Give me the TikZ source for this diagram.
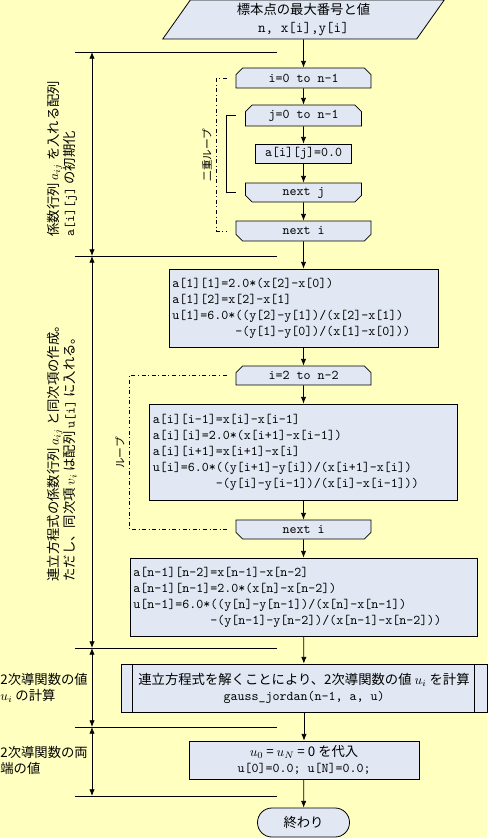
\documentclass[tikz,border=0pt]{standalone}
\usepackage{fontspec}
\newfontfamily\jp{Noto Sans CJK JP}
\usetikzlibrary{arrows.meta,shapes.misc,shapes.geometric,calc}
\definecolor{paper}{RGB}{255,255,192}
\definecolor{boxfill}{RGB}{225,232,243}

\begin{document}
\begin{tikzpicture}[x=0.75pt,y=-0.75pt,line width=0.6pt,
	flow/.style={-{Latex[length=5pt,width=4pt]}},
	dim/.style={{Latex[length=5pt,width=4pt]}-{Latex[length=5pt,width=4pt]}},
	proc/.style={draw,fill=boxfill,inner sep=2.5pt},
	code/.style={proc,align=left,font=\ttfamily},
	loopin/.style={draw,fill=boxfill,chamfered rectangle,
		chamfered rectangle corners={north west,north east},
		chamfered rectangle xsep=2.5pt,chamfered rectangle ysep=2.5pt,
		inner xsep=1pt,inner ysep=0pt,
		font=\ttfamily,minimum width=101.25pt,minimum height=15pt},
	loopout/.style={loopin,chamfered rectangle corners={south west,south east}},
	loopline/.style={dash dot},
	note/.style={font=\jp,align=left,inner sep=0pt}]
	\fill[paper] (0,0) rectangle (487,838);
	\useasboundingbox (0,0) rectangle (487,838);

	% input
	\node[draw,fill=boxfill,trapezium,trapezium left angle=63,trapezium right angle=117,
		trapezium stretches=true,minimum width=211.5pt,minimum height=29.25pt,
		align=center,inner sep=0pt] (input) at (303.5,19.5)
		{\jp 標本点の最大番号と値\\[1pt]\fontsize{11}{13}\ttfamily n,\ x[i],y[i]};

	% coefficient matrix cleared
	\node[loopin] (fori) at (303.5,78) {i=0 to n-1};
	\node[loopin,minimum width=87pt,minimum height=15.75pt] (forj) at (303.5,115.5) {j=0 to n-1};
	\node[proc,font=\ttfamily,minimum width=72pt,minimum height=14.25pt,inner ysep=0pt] (aij) at (303.5,153.5) {a[i][j]=0.0};
	\node[loopout,minimum width=87pt,minimum height=14.25pt] (nextj) at (303.5,192.5) {next j};
	\node[loopout] (nexti) at (303.5,231) {next i};

	% equations
	\node[code,text width=196.75pt,minimum height=58.5pt] (coef1) at (303.5,308) {a[1][1]=2.0*(x[2]-x[0])\\
		a[1][2]=x[2]-x[1]\\
		u[1]=6.0*((y[2]-y[1])/(x[2]-x[1])\\
		\hspace*{4.725em}-(y[1]-y[0])/(x[1]-x[0]))};
	\node[loopin,minimum height=14.25pt] (fori2) at (303.5,375.5) {i=2 to n-2};
	\node[code,text width=226pt,minimum height=72pt] (coef2) at (303.5,452) {a[i][i-1]=x[i]-x[i-1]\\
		a[i][i]=2.0*(x[i+1]-x[i-1])\\
		a[i][i+1]=x[i+1]-x[i]\\
		u[i]=6.0*((y[i+1]-y[i])/(x[i+1]-x[i])\\
		\hspace*{4.725em}-(y[i]-y[i-1])/(x[i]-x[i-1]))};
	\node[loopout,minimum height=14.25pt] (nexti2) at (303.5,529.5) {next i};
	\node[code,text width=255.25pt,minimum height=58.5pt] (coef3) at (303.5,597) {a[n-1][n-2]=x[n-1]-x[n-2]\\
		a[n-1][n-1]=2.0*(x[n]-x[n-2])\\
		u[n-1]=6.0*((y[n]-y[n-1])/(x[n]-x[n-1])\\
		\hspace*{5.775em}-(y[n-1]-y[n-2])/(x[n-1]-x[n-2]))};

	% solve, ends, stop
	\node[proc,align=center,font=\jp,minimum width=274.5pt,minimum height=36pt] (solve) at (304,688)
		{連立方程式を解くことにより、2次導関数の値 $u_i$ を計算\\\texttt{gauss\_jordan(n-1, a, u)}};
	\draw ($(solve.north west)+(12,0)$) -- ($(solve.south west)+(12,0)$)
		($(solve.north east)+(-13,0)$) -- ($(solve.south east)+(-13,0)$);
	\node[proc,align=center,font=\jp,minimum width=172.5pt,minimum height=28.5pt] (ends) at (304,760)
		{$u_0$ = $u_N$ = 0 を代入\\\texttt{u[0]=0.0; u[N]=0.0;}};
	\node[draw,fill=boxfill,rounded corners=10.8pt,font=\jp,minimum width=69pt,minimum height=21.75pt] (stop) at (303.5,822.5) {終わり};

	\foreach \a/\b in {input/fori,fori/forj,forj/aij,aij/nextj,nextj/nexti,nexti/coef1,
		coef1/fori2,fori2/coef2,coef2/nexti2,nexti2/coef3,coef3/solve,solve/ends,ends/stop}
		\draw[flow] (\a) -- (\b);

	% loops
	\draw[loopline] ($(fori.west)+(-9,0)$) -- ++(-10,0) |- ($(nexti.west)+(-9,0)$);
	\draw ($(forj.west)+(-9,0)$) -- ++(-10,0) |- ($(nextj.west)+(-9,0)$);
	\draw[loopline] ($(fori2.west)+(-9,0)$) -- ++(-97,0) |- ($(nexti2.west)+(-9,0)$);
	\node[note,font=\jp\footnotesize,rotate=90] (dbl) at (207,155) {二重ループ};
	\node[note,font=\jp\footnotesize,rotate=90] (lp) at (120,453) {ループ};

	% ranges
	\foreach \n/\y in {0/52,1/256,2/648,3/727,4/796}{
		\coordinate (r\n) at (92,\y);
		\draw ($(r\n)+(-17,0)$) -- ($(r\n)+(185,0)$);
	}
	\foreach \a/\b in {0/1,1/2,2/3,3/4}
		\draw[dim] (r\a) -- (r\b);

	\node[note,rotate=90,anchor=west] (init) at (62,237)
		{係数行列 $a_{ij}$ を入れる配列\\\texttt{a[i][j]} の初期化};
	\node[note,rotate=90,anchor=west] (eqs) at (62,582)
		{連立方程式の係数行列 $a_{ij}$ と同次項の作成。\\ただし、同次項 $v_i$ は配列 \texttt{u[i]} に入れる。};
	\node[note,anchor=west] (calc) at (0,687.5) {2次導関数の値\\$u_i$ の計算};
	\node[note,anchor=west] (bnd) at (0,760) {2次導関数の両\\端の値};
\end{tikzpicture}
\end{document}
